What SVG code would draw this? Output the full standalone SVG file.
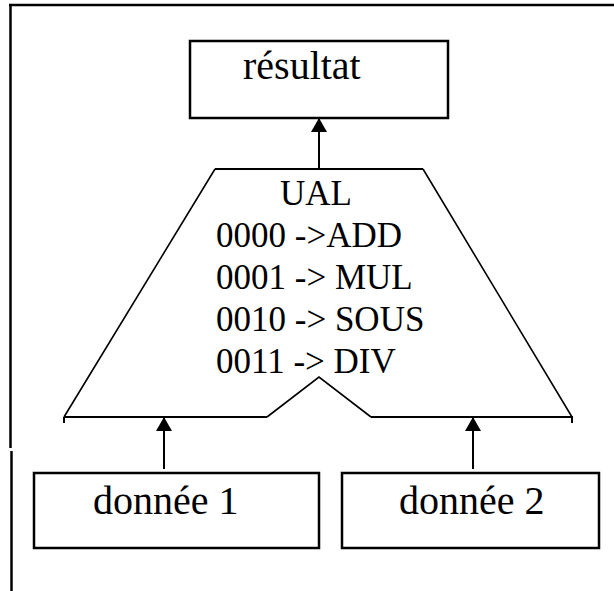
<svg xmlns="http://www.w3.org/2000/svg" width="614" height="591" viewBox="0 0 614 591">
  <style>
    .box { fill: #ffffff; stroke: #000000; stroke-width: 2.5; }
    .edge { fill: none; stroke: #000000; stroke-width: 2; }
    .diag { fill: none; stroke: #000000; stroke-width: 1.6; }
    .txt { font-family: "Liberation Serif", "Times New Roman", serif; fill: #000000; }
    .big { font-size: 40px; }
    .mid { font-size: 35px; }
    .frame { stroke: #000000; stroke-width: 2.5; fill: none; }
  </style>
  <defs>
    <marker id="arrow" markerUnits="userSpaceOnUse" markerWidth="20" markerHeight="16" refX="14" refY="8" orient="auto">
      <path d="M14,8 L0,0 L0,16 Z" fill="#000000"/>
    </marker>
  </defs>
  <rect x="0" y="0" width="614" height="591" fill="#ffffff"/>
  <g id="frame">
    <line class="frame" x1="9" y1="5" x2="614" y2="5"/>
    <line class="frame" x1="10.5" y1="4" x2="10.5" y2="448"/>
    <line class="frame" x1="11.5" y1="451" x2="11.5" y2="591"/>
  </g>
  <g id="resultat">
    <rect class="box" x="190" y="41" width="258" height="77"/>
    <text class="txt big" x="243" y="79">résultat</text>
  </g>
  <g id="ual">
    <path class="edge" d="M215,169 L423,169"/>
    <path class="diag" d="M215,169 L64,417 M423,169 L572,417 M267,417 L319,377 L371,417"/>
    <path class="edge" d="M64,417 L267,417 M371,417 L573,417 M64,417 L64,423 M572,417 L572,423"/>
    <text class="txt mid" x="280" y="205">UAL</text>
    <text class="txt mid" x="216" y="247">0000 -&gt;ADD</text>
    <text class="txt mid" x="216" y="289">0001 -&gt; MUL</text>
    <text class="txt mid" x="216" y="331">0010 -&gt; SOUS</text>
    <text class="txt mid" x="216" y="373">0011 -&gt; DIV</text>
  </g>
  <g id="donnee1">
    <rect class="box" x="34" y="473" width="285" height="75"/>
    <text class="txt big" x="93" y="514">donnée 1</text>
  </g>
  <g id="donnee2">
    <rect class="box" x="342" y="473" width="257" height="75"/>
    <text class="txt big" x="399" y="514">donnée 2</text>
  </g>
  <g id="connectors">
    <line class="edge" x1="319" y1="169" x2="319" y2="118" marker-end="url(#arrow)"/>
    <line class="edge" x1="164" y1="469" x2="164" y2="417" marker-end="url(#arrow)"/>
    <line class="edge" x1="473" y1="469" x2="473" y2="417" marker-end="url(#arrow)"/>
  </g>
</svg>
